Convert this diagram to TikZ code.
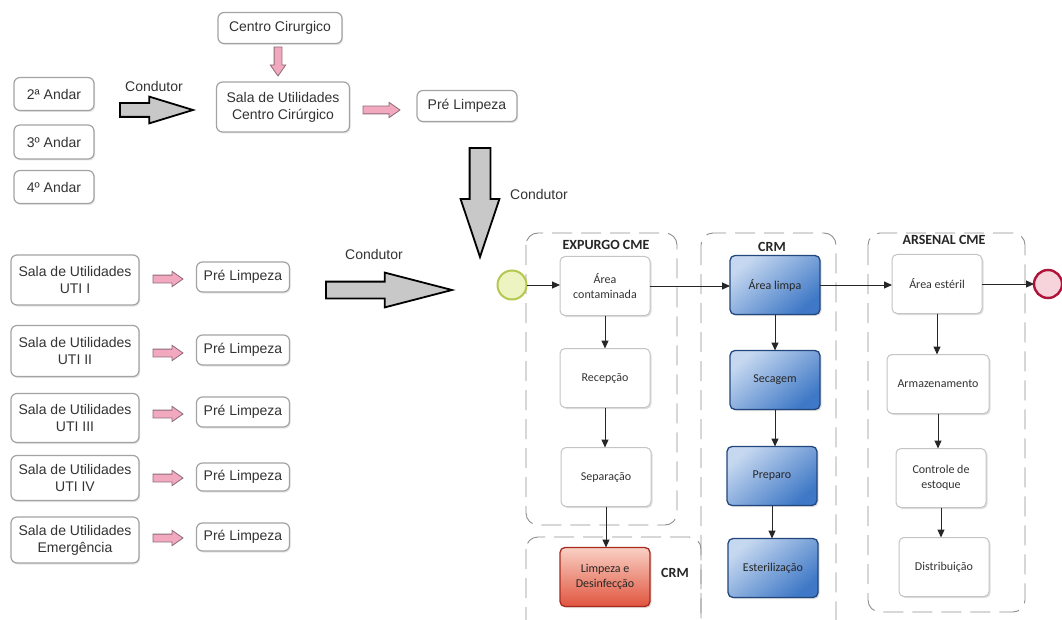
\documentclass[tikz,border=0pt]{standalone}
\usepackage{fontspec}
\setmainfont{Liberation Sans}
\newfontfamily\calibri{Carlito}
\usetikzlibrary{shapes.arrows,shadows,arrows.meta}

\definecolor{ink}{HTML}{333333}
\definecolor{frame}{HTML}{A3A3A3}
\definecolor{pinkfill}{HTML}{F2A9C0}
\definecolor{pinkline}{HTML}{8C6B77}
\definecolor{blockgray}{HTML}{C8C8C8}
\definecolor{lanegray}{HTML}{8E8E8E}
\definecolor{bluelight}{HTML}{C6D8F0}
\definecolor{bluedark}{HTML}{3E78C6}
\definecolor{blueline}{HTML}{22467E}
\definecolor{redlight}{HTML}{F9D0C4}
\definecolor{reddark}{HTML}{E0553F}
\definecolor{redline}{HTML}{A82A1E}
\definecolor{startfill}{HTML}{EEF3C2}
\definecolor{startline}{HTML}{B4C84E}
\definecolor{endfill}{HTML}{F7D3DB}
\definecolor{endline}{HTML}{B0133A}
\definecolor{taskline}{HTML}{C4C4C4}

\begin{document}
\begin{tikzpicture}[x=1pt,y=-1pt,
  every node/.style={inner sep=0pt, outer sep=0pt},
  sheet/.style={draw=frame, line width=1.2pt, rounded corners=6pt, fill=white,
    align=center, text=ink, font=\fontsize{14}{17}\selectfont,
    drop shadow={opacity=0.2, shadow xshift=1.2pt, shadow yshift=-1.5pt}},
  note/.style={text=ink, font=\fontsize{14}{17}\selectfont},
  pinkarrow/.style={single arrow, anchor=tip, draw=pinkline, line width=0.8pt,
    fill=pinkfill, inner ysep=3.5pt, inner xsep=0pt, minimum width=0pt,
    single arrow head extend=3.8pt, single arrow tip angle=70},
  bigarrow/.style={single arrow, anchor=tip, draw=black, line width=1.8pt,
    fill=blockgray, inner xsep=0pt, minimum width=0pt},
  lane/.style={draw=lanegray, line width=0.9pt, dash pattern=on 20pt off 9pt,
    rounded corners=12pt},
  task/.style={draw=taskline, line width=1pt, rounded corners=5pt, fill=white,
    align=center, text=ink, font=\calibri\fontsize{12}{14.5}\selectfont,
    minimum width=90pt, minimum height=59pt,
    drop shadow={opacity=0.25, shadow xshift=1.5pt, shadow yshift=-1.5pt}},
  bluetask/.style={task, draw=blueline, line width=1.3pt, top color=bluelight,
    bottom color=bluedark, shading angle=40, text=black!85},
  redtask/.style={task, draw=redline, line width=1.3pt, top color=redlight,
    bottom color=reddark, text=black!85},
  startevent/.style={circle, draw=startline, line width=2pt, fill=startfill,
    minimum size=29pt},
  stopevent/.style={circle, draw=endline, line width=2.4pt, fill=endfill,
    minimum size=28pt},
  lanetitle/.style={font=\calibri\bfseries\fontsize{14}{16}\selectfont, text=black!85},
  flow/.style={draw=black!85, line width=1pt, -{Triangle[length=8pt,width=7pt]}},
]
\useasboundingbox (0,0) rectangle (1062,620);
\fill[white] (0,0) rectangle (1062,620);

% ---- floors sent down the chute to the surgical centre utility room
\node[sheet, minimum width=80pt, minimum height=33pt] (f2) at (54,94) {2ª Andar};
\node[sheet, minimum width=80pt, minimum height=34pt] (f3) at (54,142) {3º Andar};
\node[sheet, minimum width=80pt, minimum height=33pt] (f4) at (54,187) {4º Andar};
\node[bigarrow, inner ysep=6pt, single arrow head extend=6.5pt,
  single arrow tip angle=34, minimum height=73pt] (c1) at (193,110) {};
\node[note] (c1l) at (154,86) {Condutor};

\node[sheet, minimum width=124pt, minimum height=31pt] (cc) at (280,28) {Centro Cirurgico};
\node[pinkarrow, rotate=-90, minimum height=29pt] (pcc) at (278,76) {};
\node[sheet, minimum width=133pt, minimum height=50pt] (scc) at (283,107)
  {Sala de Utilidades\\Centro Cirúrgico};
\node[pinkarrow, minimum height=37pt] (p0) at (400,110) {};
\node[sheet, minimum width=100pt, minimum height=31pt] (pre0) at (467,106) {Pré Limpeza};
\node[bigarrow, rotate=-90, inner ysep=9.5pt, single arrow head extend=9pt,
  single arrow tip angle=37, minimum height=109pt] (c2) at (480,257) {};
\node[note] (c2l) at (539,194) {Condutor};

% ---- utility rooms of the ICUs and the emergency ward
\node[sheet, minimum width=128pt, minimum height=50pt] (u1) at (75,280) {Sala de Utilidades\\UTI I};
\node[sheet, minimum width=128pt, minimum height=51pt] (u2) at (75,351) {Sala de Utilidades\\UTI II};
\node[sheet, minimum width=128pt, minimum height=49pt] (u3) at (75,418) {Sala de Utilidades\\UTI III};
\node[sheet, minimum width=128pt, minimum height=45pt] (u4) at (75,478) {Sala de Utilidades\\UTI IV};
\node[sheet, minimum width=128pt, minimum height=46pt] (u5) at (75,540) {Sala de Utilidades\\Emergência};

\node[pinkarrow, minimum height=30pt] (pa1) at (183,279) {};
\node[pinkarrow, minimum height=30pt] (pa2) at (183,353) {};
\node[pinkarrow, minimum height=30pt] (pa3) at (183,414) {};
\node[pinkarrow, minimum height=30pt] (pa4) at (183,478) {};
\node[pinkarrow, minimum height=30pt] (pa5) at (183,538) {};

\node[sheet, minimum width=93pt, minimum height=30pt] (pl1) at (243,277) {Pré Limpeza};
\node[sheet, minimum width=93pt, minimum height=30pt] (pl2) at (243,350) {Pré Limpeza};
\node[sheet, minimum width=93pt, minimum height=30pt] (pl3) at (243,412) {Pré Limpeza};
\node[sheet, minimum width=93pt, minimum height=28pt] (pl4) at (243,477) {Pré Limpeza};
\node[sheet, minimum width=93pt, minimum height=28pt] (pl5) at (243,537) {Pré Limpeza};

\node[bigarrow, inner ysep=7.5pt, single arrow head extend=9pt,
  single arrow tip angle=29, minimum height=126pt] (c3) at (452,290) {};
\node[note] (c3l) at (374,254) {Condutor};

% ---- lanes of the sterile processing department
\draw[lane] (526,233) rectangle (677,525);
\draw[lane] (526,537) rectangle (701,690);
\draw[lane] (701,233) rectangle (836,690);
\draw[lane] (868,233) rectangle (1025,612);

\node[lanetitle] (h1) at (606,245) {EXPURGO CME};
\node[lanetitle] (h2) at (772,247) {CRM};
\node[lanetitle] (h3) at (944,240) {ARSENAL CME};
\node[lanetitle] (h4) at (675,573) {CRM};

% ---- process
\node[startevent] (s) at (512,285) {};
\node[task] (ac) at (605,286) {Área\\contaminada};
\node[task] (rec) at (605,378) {Recepção};
\node[task] (sep) at (606,477) {Separação};
\node[redtask] (lim) at (605,577) {Limpeza e\\Desinfecção};

\node[bluetask] (al) at (775,285) {Área limpa};
\node[bluetask] (sec) at (775,380) {Secagem};
\node[bluetask] (prep) at (772,476) {Preparo};
\node[bluetask] (est) at (773,568) {Esterilização};

\node[task] (ae) at (937,284) {Área estéril};
\node[task, minimum width=102pt] (arm) at (938,384) {Armazenamento};
\node[task] (ctl) at (941,478) {Controle de\\estoque};
\node[task] (dis) at (944,567) {Distribuição};
\node[stopevent] (e) at (1048,284) {};

\draw[flow] (s.east) -- (s.east -| ac.west);
\draw[flow] (ac.east) -- (ac.east -| al.west);
\draw[flow] (al.east) -- (al.east -| ae.west);
\draw[flow] (ae.east) -- (ae.east -| e.west);

\draw[flow] (ac.south) -- (ac.south |- rec.north);
\draw[flow] (rec.south) -- (rec.south |- sep.north);
\draw[flow] (sep.south) -- (sep.south |- lim.north);
\draw[flow] (al.south) -- (al.south |- sec.north);
\draw[flow] (sec.south) -- (sec.south |- prep.north);
\draw[flow] (prep.south) -- (prep.south |- est.north);
\draw[flow] (ae.south) -- (ae.south |- arm.north);
\draw[flow] (arm.south) -- (arm.south |- ctl.north);
\draw[flow] (ctl.south) -- (ctl.south |- dis.north);
\end{tikzpicture}
\end{document}
